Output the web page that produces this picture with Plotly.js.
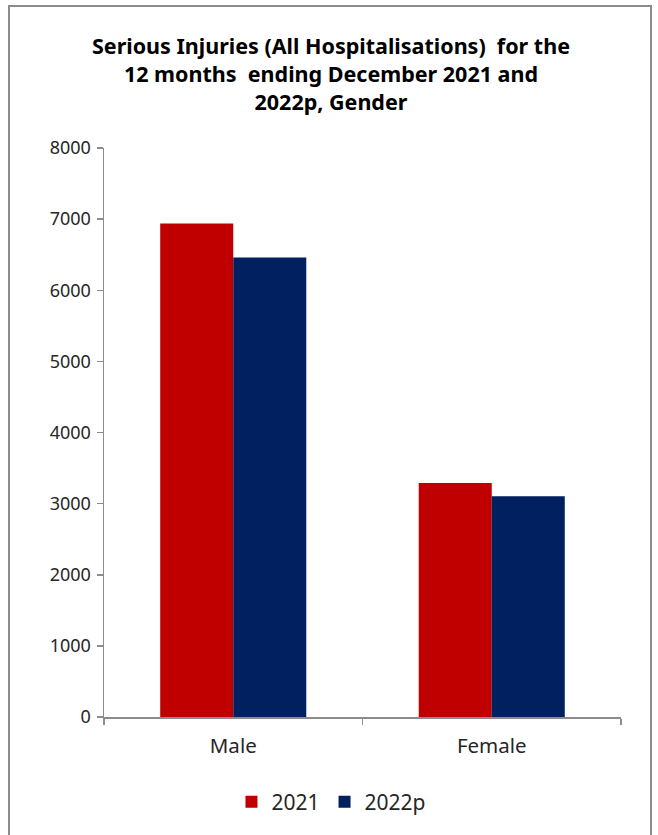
<!DOCTYPE html>
<html>
<head>
<meta charset="utf-8">
<script src="https://cdn.plot.ly/plotly-3.0.1.min.js"></script>
<style>html,body{margin:0;padding:0;background:#fff;}#chart{width:658px;height:835px;}</style>
</head>
<body>
<div id="chart"></div>
<script>
const categories = ["Male", "Female"];
const series2021 = [6940, 3290];
const series2022p = [6460, 3105];
const seriesNames = ["2021", "2022p"];
const yTicks = [0, 1000, 2000, 3000, 4000, 5000, 6000, 7000, 8000];

const W = 658, H = 835;
const m = {l: 104, r: 37, t: 148, b: 118};
const pw = W - m.l - m.r, ph = H - m.t - m.b;
const px = x => (x - m.l) / pw;
const py = y => (H - m.b - y) / ph;

const traces = [
  {type: "bar", name: seriesNames[0], x: categories, y: series2021, marker: {color: "#C00000"}},
  {type: "bar", name: seriesNames[1], x: categories, y: series2022p, marker: {color: "#002060"}}
];

const layout = {
  width: W, height: H,
  margin: m,
  paper_bgcolor: "#fff", plot_bgcolor: "#fff",
  barmode: "group", bargap: 0.435, bargroupgap: 0,
  font: {family: "Noto Sans, Liberation Sans, sans-serif", color: "#262626", size: 17},
  title: {
    text: "<b>Serious Injuries (All Hospitalisations)  for the<br>12 months  ending December 2021 and<br>2022p, Gender</b>",
    font: {size: 21.5, color: "#000"},
    x: 0.503, xanchor: "center", yref: "container", y: 1 - 54 / H, yanchor: "top"
  },
  xaxis: {
    type: "category", showline: true, linecolor: "#8c8c8c", linewidth: 1.5,
    ticks: "outside", tickson: "boundaries", ticklen: 6, tickcolor: "#8c8c8c", tickwidth: 1.5,
    showgrid: false, zeroline: false, tickfont: {size: 20.5}, ticklabelstandoff: 10
  },
  yaxis: {
    range: [0, 8000], tickvals: yTicks, ticktext: yTicks.map(String),
    showline: true, linecolor: "#8c8c8c", linewidth: 1.5,
    ticks: "outside", ticklen: 6, tickcolor: "#8c8c8c", tickwidth: 1.5,
    showgrid: false, zeroline: false, tickfont: {size: 18}, ticklabelstandoff: 2
  },
  legend: {
    orientation: "h", x: 0.44, xanchor: "center", y: py(802), yanchor: "middle",
    font: {size: 21}, itemwidth: 30, traceorder: "normal"
  },
  shapes: [{
    type: "rect", xref: "paper", yref: "paper",
    x0: px(9), x1: px(651), y0: py(845), y1: py(6),
    line: {color: "#8c8c8c", width: 2}, fillcolor: "rgba(0,0,0,0)", layer: "below"
  }]
};

Plotly.newPlot("chart", traces, layout, {displayModeBar: false, staticPlot: true});
</script>
</body>
</html>
